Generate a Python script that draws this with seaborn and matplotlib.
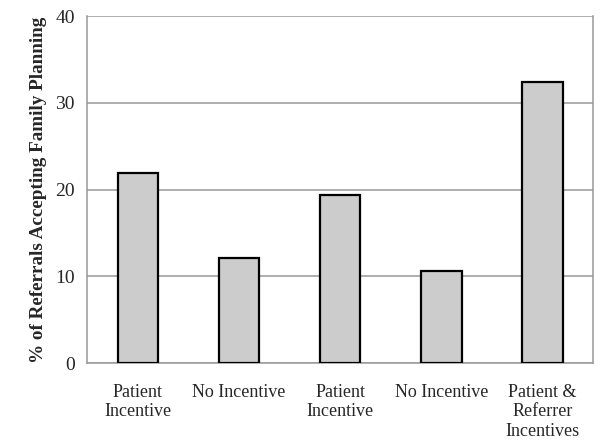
import matplotlib
matplotlib.use('Agg')
import matplotlib.pyplot as plt
import numpy as np
import pandas as pd
import seaborn as sns

# ─── Data ─────────────────────────────────────────────────────────────────────

categories = ['Patient\nIncentive', 'No Incentive', 'Patient\nIncentive',
              'No Incentive', 'Patient &\nReferrer\nIncentives']
values = [21.9, 12.1, 19.4, 10.6, 32.4]
y_ticks = [0, 10, 20, 30, 40]

df = pd.DataFrame({'group': range(len(categories)), 'pct': values})

# ─── Plot ─────────────────────────────────────────────────────────────────────

sns.set_style('white')
plt.rcParams['font.family'] = ['Liberation Serif', 'DejaVu Serif']

fig = plt.figure(figsize=(6.01, 4.46), dpi=100)
ax = fig.add_axes([0.145, 0.186, 0.842, 0.778])

sns.barplot(data=df, x='group', y='pct', color='#cccccc', saturation=1,
            edgecolor='black', linewidth=1.6, width=0.4, ax=ax, zorder=3)

ax.set_ylim(0, 40)
ax.set_xlim(-0.5, len(categories) - 0.5)
ax.set_yticks(y_ticks)
ax.set_yticklabels([str(t) for t in y_ticks], fontsize=14)
ax.set_xticks(range(len(categories)))
ax.set_xticklabels(categories, fontsize=13, linespacing=1.2)
ax.set_xticks(np.arange(-0.5, len(categories)), minor=True)

ax.tick_params(axis='x', which='major', length=0, pad=15)
ax.tick_params(axis='x', which='minor', length=4, color='#888888', direction='out')
ax.tick_params(axis='y', length=5, color='#888888', direction='out', pad=4)

ax.yaxis.grid(True, color='#999999', linewidth=1.1, zorder=0)
ax.set_axisbelow(True)
for side in ['left', 'right', 'bottom']:
    ax.spines[side].set_color('#999999')
    ax.spines[side].set_linewidth(1.1)
ax.spines['top'].set_visible(False)

ax.set_xlabel('')
ax.set_ylabel('% of Referrals Accepting Family Planning', fontsize=13.8,
              fontweight='bold', labelpad=6)

fig.savefig('out.png', dpi=100)
